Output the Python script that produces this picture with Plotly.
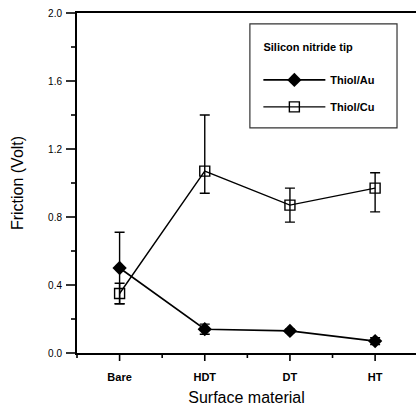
import plotly.graph_objects as go

categories = ["Bare", "HDT", "DT", "HT"]
au_values = [0.50, 0.14, 0.13, 0.07]
au_err_plus = [0.21, 0.03, 0.01, 0.02]
au_err_minus = [0.21, 0.03, 0.01, 0.02]
cu_values = [0.35, 1.07, 0.87, 0.97]
cu_err_plus = [0.06, 0.33, 0.10, 0.09]
cu_err_minus = [0.06, 0.13, 0.10, 0.14]
y_major_ticks = [0.0, 0.4, 0.8, 1.2, 1.6, 2.0]
y_minor_ticks = [0.2, 0.6, 1.0, 1.4, 1.8]
x_minor_ticks = [-0.5, 0.5, 1.5, 2.5]

xpos = list(range(len(categories)))
FONT = "Liberation Sans, Arial, sans-serif"

W, H = 416, 408
ML, MR, MT, MB = 77, 0, 13, 55
XR = [-0.5, 3.48]
YR = [0.0, 2.0]
PW, PH = W - ML - MR, H - MT - MB

fig = go.Figure()
fig.add_trace(go.Scatter(
    x=xpos, y=au_values, name="<b>Thiol/Au</b>", mode="lines+markers", legendgroup="au",
    line=dict(color="black", width=1.6),
    marker=dict(symbol="diamond", size=11, color="black"),
    error_y=dict(type="data", array=au_err_plus, arrayminus=au_err_minus,
                 color="black", thickness=1.4, width=5),
))
fig.add_trace(go.Scatter(
    x=xpos, y=cu_values, name="<b>Thiol/Cu</b>", mode="lines+markers", legendgroup="cu",
    line=dict(color="black", width=1.4),
    marker=dict(symbol="square-open", size=10, color="black", line=dict(width=1.4)),
    error_y=dict(type="data", array=cu_err_plus, arrayminus=cu_err_minus,
                 color="black", thickness=1.4, width=5),
))

# axis tick marks (paper shapes positioned via the axis ranges)
def xfrac(v):
    return (v - XR[0]) / (XR[1] - XR[0])

def yfrac(v):
    return (v - YR[0]) / (YR[1] - YR[0])

tick_line = dict(color="black", width=1.6)
for v in xpos:
    fig.add_shape(type="line", xref="paper", yref="paper",
                  x0=xfrac(v), x1=xfrac(v), y0=0, y1=-8 / PH, line=tick_line)
for v in x_minor_ticks:
    fig.add_shape(type="line", xref="paper", yref="paper",
                  x0=xfrac(v), x1=xfrac(v), y0=0, y1=-5 / PH, line=tick_line)
for v in y_major_ticks:
    fig.add_shape(type="line", xref="paper", yref="paper",
                  x0=0, x1=-11 / PW, y0=yfrac(v), y1=yfrac(v), line=tick_line)
for v in y_minor_ticks:
    fig.add_shape(type="line", xref="paper", yref="paper",
                  x0=0, x1=-6 / PW, y0=yfrac(v), y1=yfrac(v), line=tick_line)

# legend frame
fig.add_shape(type="rect", xref="paper", yref="paper",
              x0=0.510, x1=0.944, y0=0.662, y1=0.968,
              line=dict(color="#333", width=1.2))

fig.update_layout(
    width=W, height=H,
    margin=dict(l=ML, r=MR, t=MT, b=MB),
    plot_bgcolor="white", paper_bgcolor="white",
    font=dict(family=FONT, color="black"),
    legend=dict(
        x=0.535, y=0.93, xanchor="left", yanchor="top",
        borderwidth=0, bgcolor="rgba(0,0,0,0)",
        title=dict(text="\u00a0<b>Silicon nitride tip</b><br> ", font=dict(size=11, family=FONT), side="top"),
        font=dict(size=11, family=FONT),
        itemwidth=62, tracegroupgap=8,
    ),
    xaxis=dict(
        range=XR, tickvals=xpos, ticktext=["<b>%s</b>" % c for c in categories],
        showgrid=False, zeroline=False,
        showline=True, linecolor="black", linewidth=2, mirror=True,
        ticks="outside", ticklen=13, tickwidth=1, tickcolor="rgba(0,0,0,0)",
        tickfont=dict(size=11, family=FONT),
        title=dict(text="Surface material", font=dict(size=16, family=FONT), standoff=10),
    ),
    yaxis=dict(
        range=YR, tickvals=y_major_ticks,
        tickformat=".1f", tickprefix="<b>", ticksuffix="</b>",
        showgrid=False, zeroline=False,
        showline=True, linecolor="black", linewidth=2,
        ticks="outside", ticklen=11, tickwidth=1, tickcolor="rgba(0,0,0,0)",
        tickfont=dict(size=10, family=FONT),
        title=dict(text="Friction (Volt)", font=dict(size=16, family=FONT), standoff=20),
    ),
)

fig.write_html("out.html", config={"displayModeBar": False},
               post_script="document.body.style.margin='0px';")
